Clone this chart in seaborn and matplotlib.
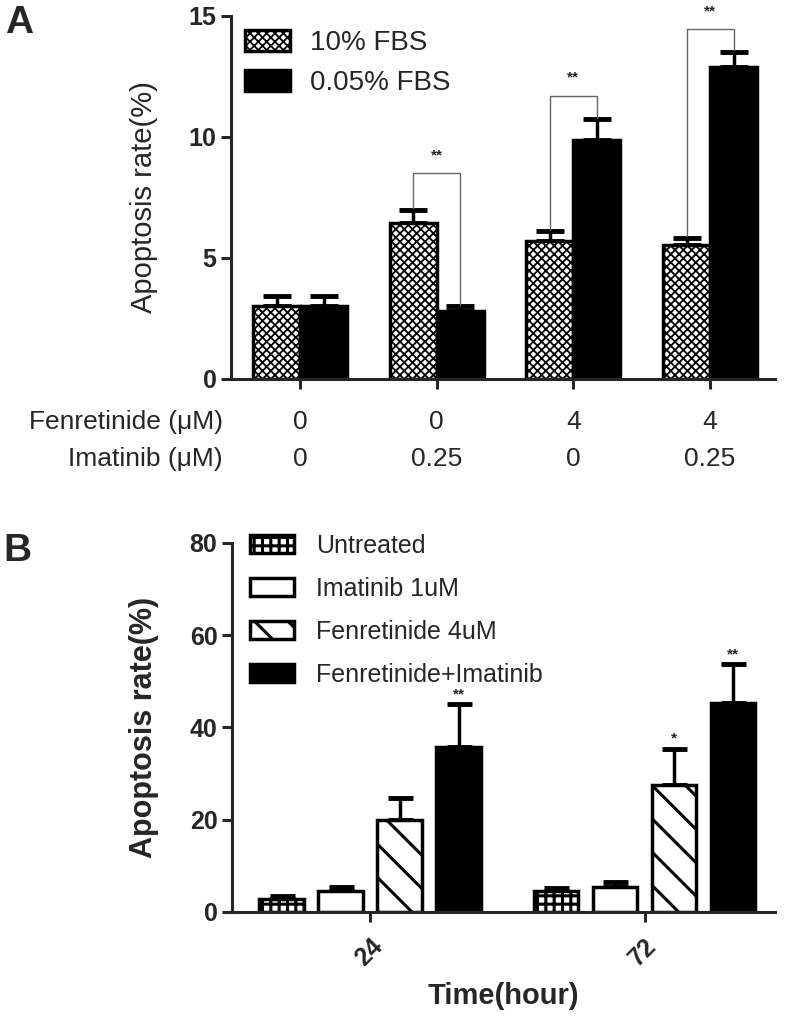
import numpy as np
import pandas as pd
import seaborn as sns
import matplotlib.pyplot as plt

# ---- panel A data ----
conditions_a = ['c1', 'c2', 'c3', 'c4']
fenretinide_um = ['0', '0', '4', '4']
imatinib_um = ['0', '0.25', '0', '0.25']
fbs_levels = ['10% FBS', '0.05% FBS']
fbs10_mean = [3.0, 6.45, 5.71, 5.53]
fbs10_err = [0.43, 0.55, 0.39, 0.31]
fbs005_mean = [3.0, 2.81, 9.88, 12.87]
fbs005_err = [0.43, 0.19, 0.86, 0.66]
sig_a = ['', '**', '**', '**']
bracket_a = [None, 8.5, 11.7, 14.45]

# ---- panel B data ----
hours = ['24', '72']
treatments = ['Untreated', 'Imatinib 1uM', 'Fenretinide 4uM', 'Fenretinide+Imatinib']
untreated_mean = [2.9, 4.5]
untreated_err = [0.6, 0.75]
imatinib_mean = [4.6, 5.4]
imatinib_err = [0.8, 1.2]
fenretinide_mean = [19.9, 27.6]
fenretinide_err = [4.7, 7.8]
combo_mean = [35.8, 45.2]
combo_err = [9.2, 8.5]
sig_b = {'Fenretinide 4uM': ['', '*'], 'Fenretinide+Imatinib': ['**', '**']}

dfA = pd.DataFrame({
    'cond': conditions_a * 2,
    'fbs': np.repeat(fbs_levels, len(conditions_a)),
    'rate': fbs10_mean + fbs005_mean,
})
means_b = [untreated_mean, imatinib_mean, fenretinide_mean, combo_mean]
errs_b = [untreated_err, imatinib_err, fenretinide_err, combo_err]
dfB = pd.DataFrame({
    'hour': hours * len(treatments),
    'treatment': np.repeat(treatments, len(hours)),
    'rate': sum(means_b, []),
})

sns.set_style('ticks')
plt.rcParams['font.family'] = ['Liberation Sans', 'DejaVu Sans']
plt.rcParams['axes.linewidth'] = 2.2

fig = plt.figure(figsize=(7.92, 10.16), dpi=100)
axA = fig.add_axes([0.2917, 0.6270, 0.6869, 0.3573])
axB = fig.add_axes([0.2929, 0.1024, 0.6856, 0.3632])


def set_hatch_lw(patch, lw):
    try:
        patch.set_hatch_linewidth(lw)
    except AttributeError:
        pass


def style_axis(ax):
    sns.despine(ax=ax)
    ax.tick_params(axis='both', length=7, width=2.2, direction='out')
    for lab in ax.get_yticklabels():
        lab.set_fontsize(18)
        lab.set_fontweight('bold')


# ---------------- panel A ----------------
plt.rcParams['hatch.linewidth'] = 1.3
sns.barplot(data=dfA, x='cond', y='rate', hue='fbs', order=conditions_a,
            hue_order=fbs_levels, palette=['white', 'black'], saturation=1,
            edgecolor='black', linewidth=2.5, width=0.688, gap=0,
            errorbar=None, legend=False, ax=axA)
bars_a = list(axA.containers)
for p in bars_a[0]:
    p.set_hatch('xxxx')
    set_hatch_lw(p, 1.3)

tops_a = []
for cont, m, e in zip(bars_a, [fbs10_mean, fbs005_mean], [fbs10_err, fbs005_err]):
    xs = [p.get_x() + p.get_width() / 2 for p in cont]
    axA.errorbar(xs, m, yerr=[np.zeros(len(m)), e], fmt='none', ecolor='black',
                 elinewidth=2.5, capsize=10, capthick=3.5, zorder=0.5)
    tops_a.append([xs, np.array(m) + np.array(e)])

for i, s in enumerate(sig_a):
    if not s:
        continue
    xl, yl = tops_a[0][0][i], tops_a[0][1][i]
    xr, yr = tops_a[1][0][i], tops_a[1][1][i]
    ytop = bracket_a[i]
    axA.plot([xl, xl, xr, xr], [yl + 0.05, ytop, ytop, yr + 0.05], color='#666666',
             lw=1.0, clip_on=False, zorder=3)
    axA.text((xl + xr) / 2, ytop + 0.75, s, ha='center', va='center', fontsize=11,
             fontweight='bold', color='#222222', clip_on=False)

axA.set_ylim(0, 15)
axA.set_yticks([0, 5, 10, 15])
axA.set_xlim(-0.505, 3.475)
axA.set_xticks(range(len(conditions_a)))
axA.set_xticklabels([''] * len(conditions_a))
axA.set_xlabel('')
axA.set_ylabel('Apoptosis rate(%)', fontsize=21, labelpad=22)
style_axis(axA)

for i in range(len(conditions_a)):
    axA.text(i, -0.118, fenretinide_um[i], transform=axA.get_xaxis_transform(),
             ha='center', va='center', fontsize=19)
    axA.text(i, -0.22, imatinib_um[i], transform=axA.get_xaxis_transform(),
             ha='center', va='center', fontsize=19)
fig.text(0.2816, 1 - 422 / 1016, 'Fenretinide (\u03bcM)', ha='right', va='center', fontsize=19)
fig.text(0.2816, 1 - 459 / 1016, 'Imatinib (\u03bcM)', ha='right', va='center', fontsize=19)

axA.legend(handles=[c.patches[0] for c in bars_a], labels=fbs_levels, loc='upper left',
           bbox_to_anchor=(0.025, 0.962), frameon=False, fontsize=20, borderpad=0,
           borderaxespad=0, handlelength=1.62, handleheight=0.78, handletextpad=0.75,
           labelspacing=0.5)

# ---------------- panel B ----------------
plt.rcParams['hatch.linewidth'] = 2.2
sns.barplot(data=dfB, x='hour', y='rate', hue='treatment', order=hours,
            hue_order=treatments, palette=['white', 'white', 'white', 'black'],
            saturation=1, edgecolor='black', linewidth=2.5, width=0.86, gap=0.25,
            errorbar=None, legend=False, ax=axB)
bars_b = list(axB.containers)
hatches_b = ['++', '', '\\', '']
for cont, h in zip(bars_b, hatches_b):
    for p in cont:
        if h:
            p.set_hatch(h)
            set_hatch_lw(p, 2.2)

for cont, name, m, e in zip(bars_b, treatments, means_b, errs_b):
    xs = [p.get_x() + p.get_width() / 2 for p in cont]
    axB.errorbar(xs, m, yerr=[np.zeros(len(m)), e], fmt='none', ecolor='black',
                 elinewidth=2.5, capsize=9, capthick=3.5, zorder=0.5)
    for x, top, s in zip(xs, np.array(m) + np.array(e), sig_b.get(name, ['', ''])):
        if s:
            axB.text(x, top + 0.6, s, ha='center', va='bottom', fontsize=11,
                     fontweight='bold', color='#222222', clip_on=False)

axB.set_ylim(0, 80)
axB.set_yticks([0, 20, 40, 60, 80])
axB.set_xlim(-0.503, 1.475)
axB.set_xlabel('Time(hour)', fontsize=21, fontweight='bold', labelpad=8)
axB.set_ylabel('Apoptosis rate(%)', fontsize=22, fontweight='bold', labelpad=22)
style_axis(axB)
axB.tick_params(axis='x', pad=9)
for lab in axB.get_xticklabels():
    lab.set_rotation(45)
    lab.set_ha('right')
    lab.set_rotation_mode('anchor')
    lab.set_fontsize(18)
    lab.set_fontweight('bold')

axB.legend(handles=[c.patches[0] for c in bars_b], labels=treatments, loc='upper left',
           bbox_to_anchor=(0.033, 1.025), frameon=False, fontsize=18, borderpad=0,
           borderaxespad=0, handlelength=1.76, handleheight=0.72, handletextpad=0.88,
           labelspacing=0.76)

fig.text(0.006, 0.995, 'A', fontsize=28, fontweight='bold', ha='left', va='top')
fig.text(0.004, 0.475, 'B', fontsize=28, fontweight='bold', ha='left', va='top')

fig.savefig('out.png', dpi=100)
